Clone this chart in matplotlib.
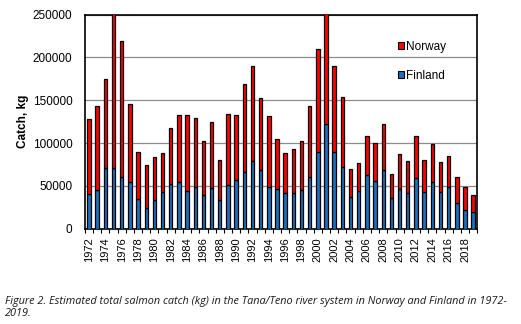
import matplotlib
matplotlib.use("Agg")
import matplotlib.pyplot as plt
from matplotlib.patches import Patch
import numpy as np

years = list(range(1972, 2020))
total = [128100, 143700, 175200, 255000, 219200, 145300, 89600, 74400, 83700, 88800,
         117600, 132800, 132800, 129300, 102400, 125000, 79800, 134000, 132400, 169000,
         189600, 152300, 132000, 104800, 88400, 92700, 102400, 143700, 209500, 258000,
         189600, 153400, 69700, 77100, 108600, 100500, 121900, 63500, 86800, 79400,
         108600, 79800, 99300, 77900, 84500, 60400, 49100, 39700]
finland = [40100, 44800, 71300, 70500, 60700, 54900, 35000, 24100, 33100, 42400,
           52600, 54900, 44400, 48300, 38900, 47900, 33900, 51000, 56900, 66600,
           78700, 68100, 48300, 46700, 41300, 41300, 45200, 60400, 90000, 122300,
           90000, 72400, 36600, 44400, 62300, 56100, 68100, 36200, 46700, 42100,
           59600, 43200, 54100, 42800, 48300, 30400, 21400, 19100]
norway = [t - f for t, f in zip(total, finland)]

blue = "#1F6FC0"
red = "#FF0000"

fig = plt.figure(figsize=(5.21, 3.24), dpi=100)
ax = fig.add_axes([0.163, 0.294, 0.753, 0.661])

x = np.arange(len(years))
ax.bar(x, finland, width=0.42, color=blue, edgecolor="black", linewidth=0.9, zorder=3)
ax.bar(x, norway, width=0.42, bottom=finland, color=red, edgecolor="black", linewidth=0.9, zorder=3)

ax.set_xlim(-0.5, len(years) - 0.5)
ax.set_ylim(0, 250000)
ax.set_yticks(range(0, 250001, 50000))
ax.yaxis.grid(True, color="#8c8c8c", linewidth=0.9, zorder=0)
ax.set_yticklabels([str(v) for v in range(0, 250001, 50000)], fontsize=8.5,
                   family="Liberation Sans")
ax.tick_params(axis="y", length=0, pad=9)

ax.set_xticks(x[::2])
ax.set_xticklabels([str(y) for y in years[::2]], rotation=90, fontsize=8,
                   family="Liberation Sans")
ax.set_xticks(np.arange(-0.5, len(years)), minor=True)
ax.tick_params(axis="x", which="major", length=0, pad=6)
ax.tick_params(axis="x", which="minor", length=3, width=0.8, direction="out")

for s in ax.spines.values():
    s.set_linewidth(1.2)
    s.set_color("black")

ax.set_ylabel("Catch, kg", fontsize=8.5, fontweight="bold", family="Liberation Sans", labelpad=2.5)

handles = [Patch(facecolor=red, edgecolor="black", linewidth=0.8),
           Patch(facecolor=blue, edgecolor="black", linewidth=0.8)]
leg = ax.legend(handles, ["Norway", "Finland"], loc="upper left",
                bbox_to_anchor=(0.785, 0.90), frameon=False,
                prop={"family": "Liberation Sans", "size": 8.5},
                handlelength=0.55, handleheight=0.55, handletextpad=0.2,
                labelspacing=1.45, borderaxespad=0)

fig.text(0.01, 0.087, "Figure 2. Estimated total salmon catch (kg) in the Tana/Teno river system in Norway and Finland in 1972-\n2019.",
         fontsize=7.85, style="italic", family="Open Sans", color="#1a1a1a",
         va="top", ha="left", linespacing=1.2)

fig.savefig("out.png", dpi=100)
